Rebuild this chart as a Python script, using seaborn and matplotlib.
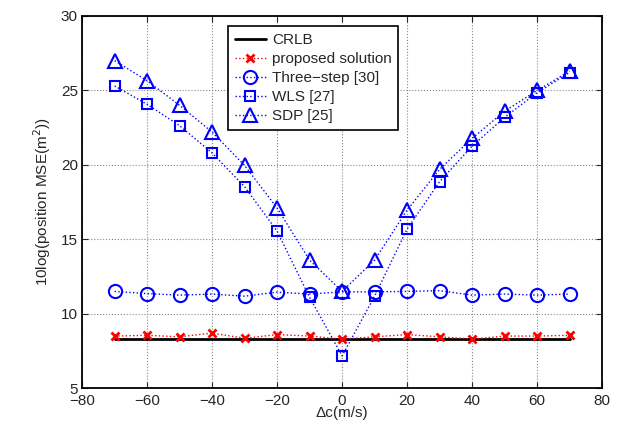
import numpy as np
import pandas as pd
import matplotlib
matplotlib.use("Agg")
import matplotlib.pyplot as plt
import seaborn as sns

dc = [-70, -60, -50, -40, -30, -20, -10, 0, 10, 20, 30, 40, 50, 60, 70]
crlb = [8.3] * 15
proposed = [8.5, 8.55, 8.45, 8.7, 8.35, 8.6, 8.5, 8.3, 8.45, 8.6, 8.45, 8.3, 8.5, 8.5, 8.55]
three_step = [11.5, 11.35, 11.25, 11.32, 11.18, 11.45, 11.32, 11.47, 11.47, 11.5, 11.55, 11.25, 11.32, 11.25, 11.32]
wls = [25.3, 24.07, 22.63, 20.8, 18.53, 15.55, 11.1, 7.17, 11.18, 15.69, 18.87, 21.26, 23.19, 24.85, 26.2]
sdp = [27.0, 25.65, 24.0, 22.2, 19.96, 17.1, 13.6, 11.5, 13.6, 16.96, 19.7, 21.78, 23.6, 25.0, 26.3]

sns.set_style("ticks")
plt.rcParams['font.family'] = ['Liberation Sans', 'DejaVu Sans']
plt.rcParams['xtick.direction'] = 'in'
plt.rcParams['ytick.direction'] = 'in'

fig = plt.figure(figsize=(6.22, 4.21), dpi=100)
ax = fig.add_axes([0.132, 0.078, 0.836, 0.884])

# name, values, color, linestyle, linewidth, marker, markersize
series = [
    ("CRLB", crlb, "black", "-", 2.0, "None", 0),
    ("proposed solution", proposed, "red", ":", 1.0, "x", 6),
    ("Three\u2212step [30]", three_step, "blue", ":", 1.0, "o", 9.5),
    ("WLS [27]", wls, "blue", ":", 1.0, "s", 7),
    ("SDP [25]", sdp, "blue", ":", 1.0, "^", 10),
]

handles = []
for name, vals, col, ls, lw, mk, ms in series:
    df = pd.DataFrame({"dc": dc, "mse": vals})
    sns.lineplot(data=df, x="dc", y="mse", ax=ax, color=col)
    ln = ax.lines[-1]
    ln.set_label(name)
    ln.set_linestyle(ls)
    ln.set_linewidth(lw)
    ln.set_marker(mk)
    ln.set_markersize(ms)
    ln.set_markeredgecolor(col)
    ln.set_markerfacecolor("none")
    ln.set_markeredgewidth(2 if mk == "x" else 1.5)
    handles.append(ln)

ax.set_xlim(-80, 80)
ax.set_ylim(5, 30)
ax.set_xticks(range(-80, 81, 20))
ax.set_yticks(range(5, 31, 5))
ax.set_xticklabels(["\u221280", "\u221260", "\u221240", "\u221220", "0", "20", "40", "60", "80"])
ax.grid(True, linestyle=":", color="#888888", linewidth=0.8)
ax.tick_params(labelsize=11, top=True, right=True, length=4)
ax.tick_params(axis="x", pad=4)
ax.tick_params(axis="y", pad=3)
for s in ax.spines.values():
    s.set_visible(True)
    s.set_linewidth(1.3)
    s.set_color("black")

ax.set_xlabel("\u0394c(m/s)", fontsize=11, labelpad=-1)
ax.set_ylabel("10log(position MSE(m$^2$))", fontsize=11, labelpad=6)

leg = ax.legend(handles=handles, loc="upper left", bbox_to_anchor=(0.281, 0.972), fontsize=11,
                frameon=True, fancybox=False, edgecolor="black", framealpha=1,
                handlelength=2.0, borderpad=0.45, labelspacing=0.32, handletextpad=0.4,
                borderaxespad=0)
leg.get_frame().set_linewidth(1.2)

fig.savefig("out.png", dpi=100)
